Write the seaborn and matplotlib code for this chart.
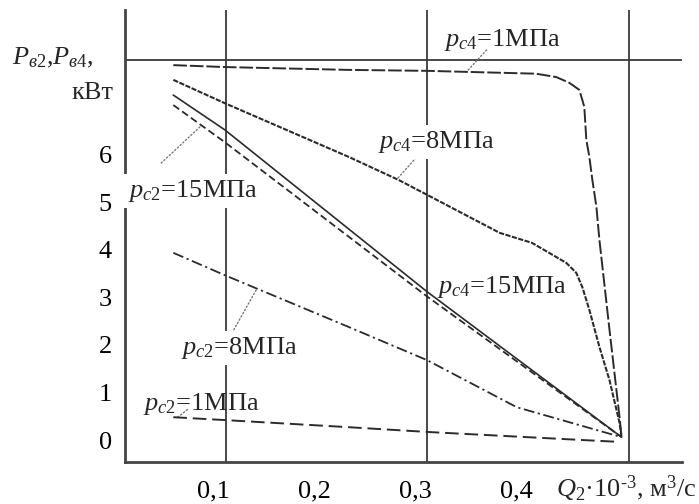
import matplotlib
matplotlib.use("Agg")
import matplotlib.pyplot as plt
import matplotlib.transforms as mtransforms
import numpy as np
import seaborn as sns

# flow Q2*10^-3 m3/s and power P, kW
q_c4_1 = [0.048, 0.099, 0.222, 0.300, 0.408, 0.428, 0.441, 0.451, 0.454, 0.456,
          0.458, 0.461, 0.464, 0.468, 0.471, 0.481, 0.491, 0.493]
p_c4_1 = [7.89, 7.85, 7.79, 7.77, 7.71, 7.64, 7.52, 7.37, 7.16, 7.01,
          6.32, 5.96, 5.47, 4.91, 4.21, 2.32, 0.48, 0.06]

q_c4_8 = [0.048, 0.099, 0.222, 0.272, 0.300, 0.372, 0.404, 0.438, 0.448, 0.454,
          0.461, 0.471, 0.481, 0.491, 0.493]
p_c4_8 = [7.58, 7.09, 5.96, 5.47, 5.16, 4.36, 4.15, 3.73, 3.52, 3.22,
          2.74, 1.96, 1.26, 0.36, 0.06]

q_c4_15 = [0.048, 0.099, 0.300, 0.493]
p_c4_15 = [7.26, 6.53, 3.12, 0.06]

q_c2_15 = [0.048, 0.099, 0.300, 0.493]
p_c2_15 = [7.05, 6.27, 3.02, 0.06]

q_c2_8 = [0.048, 0.099, 0.222, 0.300, 0.389, 0.493]
p_c2_8 = [3.94, 3.47, 2.38, 1.68, 0.69, 0.06]

q_c2_1 = [0.048, 0.099, 0.222, 0.300, 0.454, 0.491]
p_c2_1 = [0.48, 0.42, 0.27, 0.17, 0.0, -0.04]

x_ticks = [0.1, 0.2, 0.3, 0.4]
x_labels = ["0,1", "0,2", "0,3", "0,4"]
y_ticks = [0, 1, 2, 3, 4, 5, 6]
grid_q = [0.1, 0.3, 0.5]
grid_p = [8]

sns.set_theme(style="white")
plt.rcParams["font.family"] = ["Liberation Serif", "DejaVu Serif"]
plt.rcParams["mathtext.fontset"] = "custom"
plt.rcParams["mathtext.rm"] = "Liberation Serif"
plt.rcParams["mathtext.it"] = "Liberation Serif:italic"

FS = 19
ink = "#2b2b2b"

fig = plt.figure(figsize=(6.99, 5.04), dpi=100)
ax = fig.add_axes([0.1788, 0.0833, 0.7969, 0.8968])

for g in grid_q:
    ax.axvline(g, color="#3a3a3a", lw=1.3, zorder=1)
for g in grid_p:
    ax.axhline(g, color="#3a3a3a", lw=1.3, zorder=1)

curves = [
    (q_c4_1, p_c4_1, (0, (7, 1.5)), 1.4),
    (q_c4_8, p_c4_8, (0, (2.5, 0.7)), 1.5),
    (q_c4_15, p_c4_15, "-", 1.2),
    (q_c2_15, p_c2_15, (0, (4, 2)), 1.3),
    (q_c2_8, p_c2_8, (0, (6, 2, 1.2, 2)), 1.3),
    (q_c2_1, p_c2_1, (0, (7, 3)), 1.4),
]
for q, p, ls, lw in curves:
    sns.lineplot(x=q, y=p, ax=ax, color=ink, lw=lw, linestyle=ls,
                 estimator=None, sort=False, zorder=3)

# leader lines from labels to curves
leaders = [
    (q_c4_1, p_c4_1, 0.339, (0.359, 8.21)),
    (q_c4_8, p_c4_8, 0.270, (0.294, 6.06)),
    (q_c2_15, p_c2_15, 0.076, (0.036, 5.83)),
    (q_c2_8, p_c2_8, 0.131, (0.108, 2.32)),
    (q_c2_1, p_c2_1, 0.052, (0.062, 0.64)),
]
for q, p, qa, start in leaders:
    ax.annotate("", xy=(qa, np.interp(qa, q, p)), xytext=start,
                arrowprops=dict(arrowstyle="-", color="#777777", lw=1.0,
                                linestyle=":", shrinkA=0, shrinkB=0),
                zorder=2)

box = dict(facecolor="white", edgecolor="none", pad=3)
ax.text(0.375, 8.42, "$p_{c4}$=1МПа", fontsize=FS, ha="center", va="center", zorder=4)
ax.text(0.309, 6.27, "$p_{c4}$=8МПа", fontsize=FS, ha="center", va="center",
        bbox=box, zorder=4)
ax.text(0.067, 5.24, "$p_{c2}$=15МПа", fontsize=FS, ha="center", va="center",
        bbox=box, zorder=4)
ax.text(0.374, 3.22, "$p_{c4}$=15МПа", fontsize=FS, ha="center", va="center", zorder=4)
ax.text(0.113, 1.94, "$p_{c2}$=8МПа", fontsize=FS, ha="center", va="center",
        bbox=box, zorder=4)
ax.text(0.076, 0.76, "$p_{c2}$=1МПа", fontsize=FS, ha="center", va="center", zorder=4)

ax.set_xlim(0, 0.553)
ax.set_ylim(-0.463, 9.05)
ax.set_xticks(x_ticks)
ax.set_xticklabels(x_labels)
ax.set_yticks(y_ticks)
ax.tick_params(axis="x", length=0, pad=13.5, labelsize=FS, labelcolor="black")
ax.tick_params(axis="y", length=0, pad=9.4, labelsize=FS, labelcolor="black")
shift = mtransforms.ScaledTranslation(-12 / 100, 0, fig.dpi_scale_trans)
for lab in ax.get_xticklabels():
    lab.set_transform(lab.get_transform() + shift)

sns.despine(ax=ax)
for side in ("left", "bottom"):
    ax.spines[side].set_color("#444444")
    ax.spines[side].set_linewidth(2)
ax.set_xlabel("")
ax.set_ylabel("")

fig.text(53 / 699, 1 - 58 / 504, "$P_{в2}$,$P_{в4}$,", fontsize=FS,
         ha="center", va="center")
fig.text(113 / 699, 1 - 93 / 504, "кВт", fontsize=FS, ha="right", va="center")
fig.text(696 / 699, 1 - 497 / 504, "$Q_2$·10$^{‐3}$, м$^3$/с", fontsize=FS,
         ha="right", va="baseline")

fig.savefig("out.png", dpi=100, facecolor="white")
